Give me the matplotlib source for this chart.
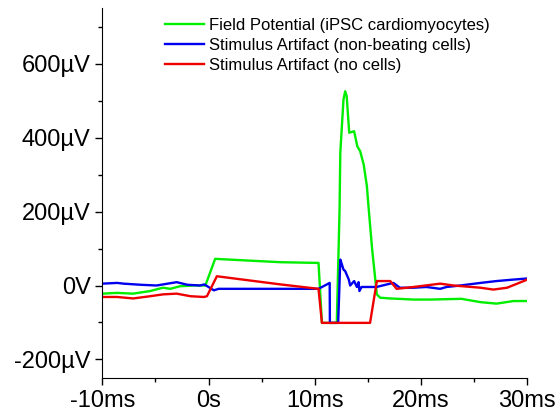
import matplotlib
matplotlib.use("Agg")
import matplotlib.pyplot as plt
from matplotlib.ticker import MultipleLocator

plt.rcParams['font.family'] = ['Liberation Sans', 'DejaVu Sans']

# time in ms, voltage in µV
t_field = [-10, -8.6, -7.1, -5.5, -4.3, -3.6, -2.7, -1.4, -0.3, 0.62, 6.75, 10.35, 10.67,
           12.07, 12.33, 12.4, 12.7, 12.86, 13.0, 13.24, 13.7, 14.0, 14.27, 14.6, 14.9,
           15.05, 15.4, 15.84, 16.15, 17.1, 19.3, 20.9, 23.8, 25.6, 27.1, 28.7, 30]
v_field = [-22, -20, -22, -15, -6, -9, -2, 0, 0, 72, 63, 61, -101,
           -101, 205, 359, 503, 525, 512, 413, 417, 376, 363, 327, 269,
           215, 97, -24, -33, -35, -38, -38, -36, -45, -49, -42, -42]

t_nonbeat = [-10, -8.6, -8.0, -6.4, -4.9, -3.0, -2.0, -0.8, -0.4, 0.5, 0.95, 10.35, 11.4,
             11.42, 12.2, 12.4, 12.55, 12.7, 12.86, 13.2, 13.33, 13.7, 13.96, 14.12, 14.2,
             14.4, 15.2, 15.8, 16.8, 17.4, 18.0, 19.3, 20.5, 21.8, 22.4, 23.7, 25.6, 27.1,
             28.7, 30]
v_nonbeat = [5, 7, 5, 2, 0, 9, 2, 0, 3, -13, -9, -9, 7,
             -101, -101, 70, 57, 43, 39, 16, 0, 12, -4, 9, -15,
             -4, -4, -4, 3, 7, -6, -6, -4, -9, -4, 0, 7, 12,
             16, 19]

t_nocell = [-10, -8.6, -7.1, -5.5, -4.3, -3.0, -1.7, -0.44, -0.15, 0.78, 6.75, 10.35, 10.67,
            15.2, 15.84, 17.1, 17.7, 19.3, 21.8, 23.05, 25.6, 26.8, 28.1, 30]
v_nocell = [-31, -31, -35, -29, -24, -22, -29, -31, -29, 25, 3, -9, -101,
            -101, 12, 12, -9, -4, 5, 0, -6, -11, -6, 16]

labels = ['Field Potential (iPSC cardiomyocytes)',
          'Stimulus Artifact (non-beating cells)',
          'Stimulus Artifact (no cells)']

xticks = [-10, 0, 10, 20, 30]
xticklabels = ['-10ms', '0s', '10ms', '20ms', '30ms']
yticks = [-200, 0, 200, 400, 600]
yticklabels = ['-200µV', '0V', '200µV', '400µV', '600µV']

fig = plt.figure(figsize=(5.6, 4.11), dpi=100)
ax = fig.add_axes([0.1827, 0.0803, 0.7589, 0.9002])

ax.plot(t_field, v_field, color='#00ee00', lw=1.7, label=labels[0])
ax.plot(t_nonbeat, v_nonbeat, color='#0000ee', lw=1.7, label=labels[1])
ax.plot(t_nocell, v_nocell, color='#ee0000', lw=1.7, label=labels[2])

ax.set_xlim(-10, 30)
ax.set_ylim(-250, 750)
ax.set_xticks(xticks)
ax.set_xticklabels(xticklabels)
ax.set_yticks(yticks)
ax.set_yticklabels(yticklabels)
ax.xaxis.set_minor_locator(MultipleLocator(5))
ax.yaxis.set_minor_locator(MultipleLocator(100))
ax.tick_params(which='major', direction='out', length=5, width=1, labelsize=17)
ax.tick_params(which='minor', direction='out', length=3, width=1)
ax.spines['top'].set_visible(False)
ax.spines['right'].set_visible(False)

ax.legend(loc='upper left', bbox_to_anchor=(0.12, 1.005), frameon=False, fontsize=12,
          handlelength=2.35, handletextpad=0.3, labelspacing=0.3, borderpad=0.2)

fig.savefig('out.png', dpi=100)
